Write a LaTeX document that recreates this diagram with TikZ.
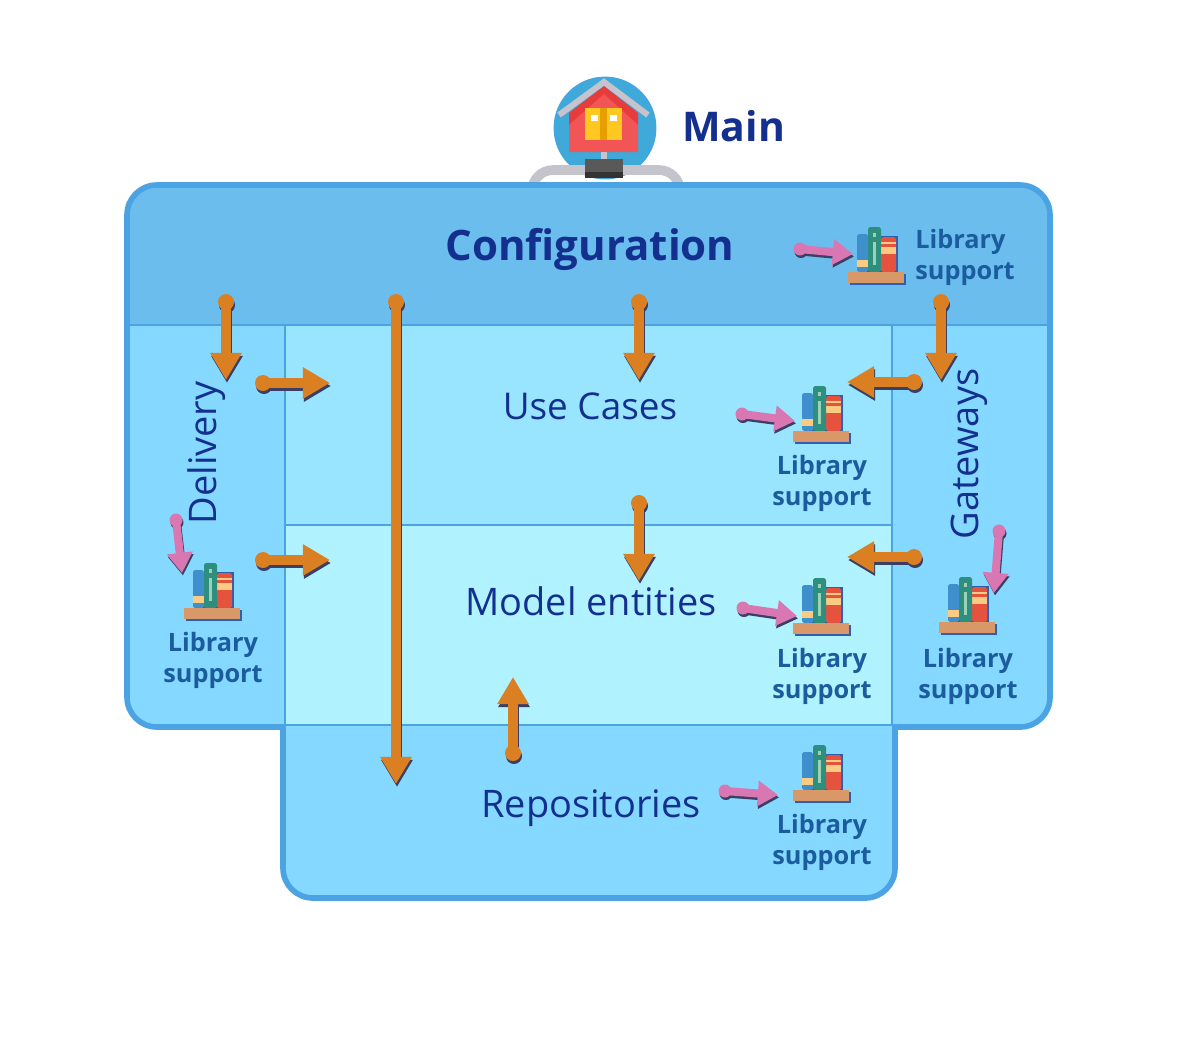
\documentclass[tikz,border=0pt]{standalone}
\usepackage{fontspec}
\setmainfont{Open Sans}
\usetikzlibrary{arrows.meta}
\definecolor{rim}{HTML}{4BA3E3}
\definecolor{confblue}{HTML}{6BBDED}
\definecolor{sideblue}{HTML}{85D8FF}
\definecolor{caseblue}{HTML}{99E4FF}
\definecolor{modelblue}{HTML}{B1F2FF}
\definecolor{inkblue}{HTML}{14308F}
\definecolor{libblue}{HTML}{1B5C9E}
\definecolor{flow}{HTML}{DB8022}
\definecolor{pinkflow}{HTML}{D977B3}
\definecolor{flowshade}{HTML}{3B3F63}
\definecolor{bookblue}{HTML}{3F8FCC}
\definecolor{bookband}{HTML}{FBCB82}
\definecolor{bookred}{HTML}{E5533F}
\definecolor{bookgreen}{HTML}{2F8F7F}
\definecolor{bookstrip}{HTML}{9DD0B8}
\definecolor{board}{HTML}{D99868}
\definecolor{boardshade}{HTML}{2F5FB0}
\definecolor{ballblue}{HTML}{3FA9D9}
\definecolor{pipegray}{HTML}{C5C3CC}
\definecolor{roofred}{HTML}{E83C3C}
\definecolor{wallred}{HTML}{F25555}
\definecolor{dooryellow}{HTML}{FFC820}
\definecolor{doorstrip}{HTML}{E5A000}
\tikzset{
    x=0.02cm, y=-0.02cm, % one unit is one pixel of the reference
    title/.style={text=inkblue, font=\fontsize{21.6}{22}\selectfont, inner sep=0pt},
    bigtitle/.style={title, font=\fontsize{23.9}{24}\selectfont\bfseries},
    libtext/.style={text=libblue, font=\fontsize{14.4}{17.6}\selectfont\bfseries, align=center, inner sep=0pt},
    divider/.style={draw=rim, line width=1.1pt},
    flowline/.style={line width=6pt, -{Triangle[length=15.5pt,width=17pt]}},
    pinkline/.style={line width=4.6pt, -{Triangle[length=11.5pt,width=14pt]}},
}
% dot and arrow with a dark copy behind: from, to
\newcommand{\flowlink}[2]{
    \fill[flowshade, shift={(1,3)}] (#1) circle (8);
    \draw[flowline, draw=flowshade, fill=flowshade, shift={(1,3)}] (#1) -- (#2);
    \fill[flow] (#1) circle (8);
    \draw[flowline, draw=flow, fill=flow] (#1) -- (#2);
}
\newcommand{\pinklink}[2]{
    \fill[flowshade, shift={(1,2.5)}] (#1) circle (6.5);
    \draw[pinkline, draw=flowshade, fill=flowshade, shift={(1,2.5)}] (#1) -- (#2);
    \fill[pinkflow] (#1) circle (6.5);
    \draw[pinkline, draw=pinkflow, fill=pinkflow] (#1) -- (#2);
}
% book shelf, placed by the top left corner of its board
\newcommand{\bookshelf}[1]{
    \begin{scope}[shift={(#1)}]
        \fill[boardshade] (2,2) rectangle (58,13);
        \fill[boardshade] (11,-36) rectangle (50,2);
        \fill[bookblue, rounded corners=1pt] (9,-38) rectangle (20,0);
        \fill[bookband] (9,-12) rectangle (20,-5);
        \fill[bookred, rounded corners=1pt] (33,-35) rectangle (48,0);
        \fill[bookband] (33,-25) rectangle (48,-18);
        \fill[bookband] (33,-30) rectangle (48,-28.5);
        \fill[bookgreen, rounded corners=1pt] (20,-45) rectangle (33,0);
        \fill[bookstrip] (24.5,-30) rectangle (28,-7);
        \fill[bookstrip] (24.5,-39) rectangle (28,-35);
        \fill[board] (0,0) rectangle (56,11);
    \end{scope}
}
\begin{document}
\begin{tikzpicture}
    \useasboundingbox (0,0) rectangle (1200,1046);
    % main, with its pipe behind the configuration box
    \node[circle, draw=rim, fill=ballblue, line width=0.5pt, minimum size=2.04cm, inner sep=0pt] (mainball) at (605,128) {};
    \draw[line width=5.5pt, draw=pipegray, rounded corners=12pt] (532,190) -- (532,170) -- (680,170) -- (680,190);
    \fill[roofred] (569,113) -- (604,86) -- (638,113) -- (638,125) -- (569,125) -- cycle;
    \fill[wallred] (569,125) -- (604,94) -- (638,125) -- (638,152) -- (569,152) -- cycle;
    \draw[line width=3.4pt, draw=pipegray] (559,115) -- (604,82) -- (648,115);
    \fill[dooryellow] (585,108) rectangle (622,140);
    \fill[doorstrip] (600,108) rectangle (607,140);
    \fill[white] (591,115) rectangle (598,121);
    \fill[white] (610,115) rectangle (617,121);
    \fill[pipegray] (601,152) rectangle (607,160);
    \fill[black!65] (585,159) rectangle (623,172);
    \fill[black!80] (585,172) rectangle (623,178);
    \node[bigtitle, anchor=west, font=\fontsize{23.3}{24}\selectfont\bfseries] (main) at (682,126) {Main};
    % regions, clipped to the outer rim
    \begin{scope}
        \clip[rounded corners=17pt] (127,185) -- (1050,185) -- (1050,727) [sharp corners] -- (895,727) [rounded corners=17pt] -- (895,898) -- (283,898) [sharp corners] -- (283,727) [rounded corners=17pt] -- (127,727) -- cycle;
        \fill[sideblue] (100,325) rectangle (1060,910);
        \fill[confblue] (100,170) rectangle (1060,325);
        \fill[caseblue] (285,325) rectangle (892,525);
        \fill[modelblue] (285,525) rectangle (892,725);
        \draw[divider] (127,325) -- (1050,325);
        \draw[divider] (285,325) -- (285,725) -- (892,725) -- (892,325);
        \draw[divider] (285,525) -- (892,525);
    \end{scope}
    \draw[draw=rim, line width=3.2pt, rounded corners=17pt] (127,185) -- (1050,185) -- (1050,727) [sharp corners] -- (895,727) [rounded corners=17pt] -- (895,898) -- (283,898) [sharp corners] -- (283,727) [rounded corners=17pt] -- (127,727) -- cycle;
    % titles
    \node[bigtitle] (config) at (590,249) {Configuration};
    \node[title, font=\fontsize{21}{21}\selectfont] (usecases) at (590,406) {Use Cases};
    \node[title] (model) at (591,601) {Model entities};
    \node[title] (repos) at (591,808) {Repositories};
    \node[title, rotate=90] (delivery) at (207,453) {Delivery};
    \node[title, rotate=90] (gateways) at (969,454) {Gateways};
    % libraries
    \bookshelf{848,272}
    \bookshelf{793,431}
    \bookshelf{793,623}
    \bookshelf{793,790}
    \bookshelf{939,622}
    \bookshelf{184,608}
    \node[libtext, align=left, anchor=west] (libconfig) at (915,257) {Library\\support};
    \node[libtext] (libcases) at (822,483) {Library\\support};
    \node[libtext] (libmodel) at (822,676) {Library\\support};
    \node[libtext] (librepos) at (822,842) {Library\\support};
    \node[libtext] (libgate) at (968,676) {Library\\support};
    \node[libtext] (libdeliv) at (213,660) {Library\\support};
    % orange arrows
    \flowlink{226,302}{226,380}
    \flowlink{263,383}{330,383}
    \flowlink{396,302}{396,784}
    \flowlink{639,302}{639,380}
    \flowlink{941,302}{941,380}
    \flowlink{914,382}{847,382}
    \flowlink{639,503}{639,581}
    \flowlink{263,560}{330,560}
    \flowlink{914,557}{847,557}
    \flowlink{513,753}{513,677}
    % pink arrows
    \pinklink{800,249}{853,254}
    \pinklink{742,414}{795,421}
    \pinklink{743,608}{797,616}
    \pinklink{725,791}{778,795}
    \pinklink{176,520}{182,573}
    \pinklink{999,531}{994,593}
\end{tikzpicture}
\end{document}
